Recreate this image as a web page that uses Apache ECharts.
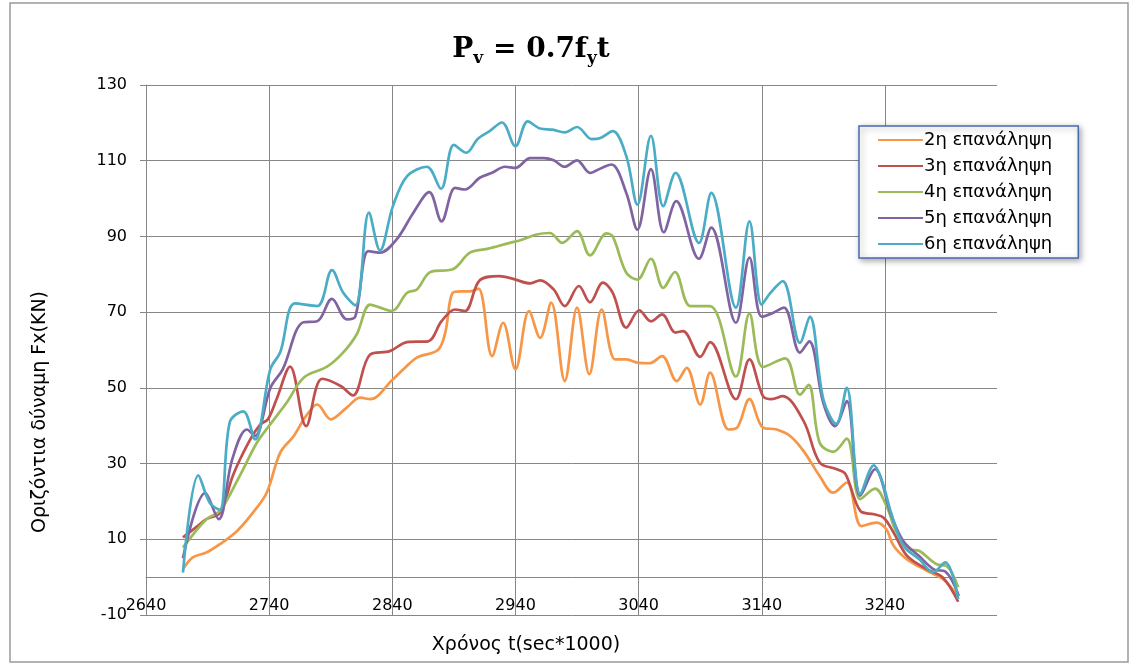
<!DOCTYPE html>
<html><head><meta charset="utf-8">
<script src="https://cdn.jsdelivr.net/npm/echarts@6/dist/echarts.min.js"></script>
<style>html,body{margin:0;padding:0;background:#fff}#c{width:1136px;height:666px}</style>
</head><body><div id="c"></div>
<script>
const seriesNames = ['2η επανάληψη','3η επανάληψη','4η επανάληψη','5η επανάληψη','6η επανάληψη'];
const xTickLabels = [2640, 2740, 2840, 2940, 3040, 3140, 3240];
const yTickLabels = [-10, 10, 30, 50, 70, 90, 110, 130];

// 2η
const x2 = [2670,2678,2689,2700,2714,2727,2738,2749,2760,2770,2779,2790,2803,2814,2822,2840,2849,2860,2877,2883,2889,2896,2903,2910,2921,2930,2940,2951,2960,2969,2980,2990,3000,3010,3021,3030,3040,3049,3059,3071,3079,3090,3098,3113,3120,3130,3141,3152,3163,3174,3187,3198,3209,3221,3233,3241,3247,3258,3274,3287,3299];
const y2 = [2.1,5.2,6.5,8.7,12.2,17.1,22.3,32.9,37.3,42.6,45.6,41.7,44.8,47.4,47,52.1,54.9,58,60,64.6,75.1,75.5,75.5,76.2,58.4,67.2,54.9,70.3,63.2,72.5,51.8,71.2,53.6,70.7,57.5,57.5,56.6,56.5,58.4,51.8,55.3,45.6,54,39,39.5,47,39.5,39,37.3,33.3,26.7,22.3,25,13.5,14.4,12.7,8.3,4.7,1.7,-0.5,-4.9];
// 3η
const x3 = [2670,2680,2689,2700,2711,2724,2733,2739,2746,2757,2770,2783,2798,2808,2822,2838,2852,2869,2880,2891,2899,2911,2927,2938,2952,2960,2971,2980,2991.5,3000.5,3011,3019,3030,3040.5,3050,3059,3070,3076,3090,3098,3119,3130,3141,3148,3157,3174,3187,3201,3208,3220,3231,3239,3247,3258,3274,3287,3299.5];
const y3 = [10.5,13,15.3,17,27.2,36,40.4,41.7,47,55.6,39.9,52.4,50.5,48,58.8,59.7,62.1,62.3,67.6,70.7,70.3,78.4,79.5,78.8,77.6,78.4,76,71.6,76.9,72.6,77.8,75.1,65.9,70.5,67.6,69.4,64.6,65,58.2,62.1,47,57.5,47.8,47,47.8,41.2,30.3,28.5,27.2,17.5,16.6,15.7,11.8,5.6,2.1,-0.1,-6.5];
// 4η
const x4 = [2670,2689,2700,2716,2730,2740,2754,2768,2787,2800,2811,2822,2830,2839.5,2852,2860,2871,2889,2903,2917,2935.5,2944,2957,2968,2978,2990,3000.5,3014,3019,3030,3039,3050,3060,3069.5,3082,3098,3119,3130,3141,3159,3171,3178,3187,3198,3209,3220,3232,3241,3249.5,3260,3268,3282,3290,3299.5];
const y4 = [7.8,15.3,17.5,26.7,35.5,40,46,52.7,55.6,59.3,64.1,72,71.2,70.3,75.1,76,80.6,81.3,85.7,86.7,88.3,89,90.5,90.9,88.3,91.4,85,90.8,90,80.4,78.6,84.1,76.4,80.6,71.6,71.6,53,69.6,55.5,57.8,48.2,50.8,35.5,33.1,36.6,20.6,23.4,19,11.8,7.4,6.9,3.4,3,-2.7];
// 5η
const x5 = [2670,2688,2699,2710,2722,2728.5,2741,2751,2767.5,2779,2791,2803,2810,2820.5,2830,2843.5,2857,2870,2880,2891,2899,2911,2921,2931.5,2940,2952,2963,2971,2980,2990,3000.5,3010,3018,3030,3039,3050,3060.5,3070.5,3089,3099,3119,3130,3140,3149,3158,3171,3178.5,3190,3199.5,3209,3220,3232,3245,3255,3268,3280,3289,3300];
const y5 = [5,22.2,15.3,31.1,39,37.3,50,54.9,67.3,67.6,73.5,68.1,68.9,86.1,85.7,89.2,96.2,101.7,94,102.8,102.4,105.5,106.8,108.4,108.1,110.7,110.7,110.1,108.4,110.1,106.8,108.1,109,101.5,91.8,107.8,91.1,99.3,84.1,92.3,67.2,84.4,68.8,69.8,71.2,59.3,62.3,46,39.9,46.5,21.5,28.5,16.5,9.5,5.5,2,1.5,-5];
// 6η
const x6 = [2670,2682.5,2692,2700,2708,2719,2728.5,2741,2749,2761,2779,2791,2800,2810,2821,2830,2840.5,2852,2868,2879.5,2890,2900,2909.5,2919,2929,2940,2950,2960,2970,2980,2990,3002,3009,3019,3030,3039,3050,3060,3070,3089,3099,3119,3130,3140,3147,3157,3171,3179,3190,3200.5,3209,3220,3231,3238,3245,3255,3268,3279,3289,3299.5];
const y6 = [1.2,26.9,19.5,17.8,40.9,43.8,36.4,55,59.4,72.3,71.6,81.1,75.2,71.8,96.3,86.3,98,105.9,108.4,102.6,114.2,112.1,115.8,117.8,120.1,113.8,120.4,118.5,118.2,117.5,118.9,115.7,116,117.8,111.2,98.4,116.6,98,106.8,88.3,101.5,71.2,94,72,75.1,78.2,61.9,68.8,47,40.5,50,21.9,29.5,25,17,8.3,4.7,1.3,3.9,-5.8];

const colors = ['#F79646','#C0504D','#9BBB59','#8064A2','#4BACC6'];
const xs = [x2,x3,x4,x5,x6];
const ys = [y2,y3,y4,y5,y6];

const chart = echarts.init(document.getElementById('c'), null, {renderer:'canvas'});
const font = 'DejaVu Sans';
const gridColor = '#868686';

const series = seriesNames.map((n, k) => ({
  name: n, type: 'line', symbol: 'none', smooth: 0.35,
  data: xs[k].map((x, i) => [x, ys[k][i]]),
  lineStyle: {color: colors[k], width: 2.7},
  itemStyle: {color: colors[k]},
  z: 5 + k
}));

chart.setOption({
  animation: false,
  backgroundColor: '#fff',
  title: {
    text: '{p|P}{s|v}{p| = 0.7f}{s|y}{p|t}',
    left: 526, top: 27, textAlign: 'center',
    textStyle: {
      rich: {
        p: {fontFamily: 'DejaVu Serif', fontWeight: 'bold', fontSize: 28, color: '#000', lineHeight: 36, verticalAlign: 'middle'},
        s: {fontFamily: 'DejaVu Serif', fontWeight: 'bold', fontSize: 17, color: '#000', lineHeight: 36, padding: [17, 0, 0, 0]}
      }
    }
  },
  legend: {
    orient: 'vertical', left: 859, top: 126,
    data: seriesNames,
    itemWidth: 45, itemHeight: 16, itemGap: 8,
    padding: [5, 26, 5, 18],
    backgroundColor: '#fff', borderColor: '#4a6ab0', borderWidth: 1.5,
    shadowBlur: 6, shadowColor: 'rgba(0,0,0,0.35)', shadowOffsetX: 2, shadowOffsetY: 2,
    itemStyle: {opacity: 0},
    textStyle: {fontFamily: font, fontSize: 18, lineHeight: 16, color: '#000', padding: [0,0,0,-4]}
  },
  grid: {left: 146, right: 139, top: 85, bottom: 51, containLabel: false},
  xAxis: {
    type: 'value', min: 2640, max: 3331, interval: 100,
    axisLine: {show: true, onZero: true, lineStyle: {color: gridColor, width: 1}},
    axisTick: {show: false},
    axisLabel: {
      fontFamily: font, fontSize: 16, color: '#000', margin: -17,
      showMaxLabel: false,
      formatter: v => xTickLabels.includes(Math.round(v)) ? String(Math.round(v)) : ''
    },
    splitLine: {show: true, showMaxLine: false, lineStyle: {color: gridColor, width: 1}}
  },
  yAxis: {
    type: 'value', min: -10, max: 130, interval: 20,
    axisLine: {show: true, lineStyle: {color: gridColor, width: 1}},
    axisTick: {show: true, length: 6, lineStyle: {color: gridColor}},
    axisLabel: {
      fontFamily: font, fontSize: 16, color: '#000', margin: 19,
      formatter: v => yTickLabels.includes(Math.round(v)) ? String(Math.round(v)) : ''
    },
    splitLine: {show: true, lineStyle: {color: gridColor, width: 1}}
  },
  graphic: [
    {type: 'rect', shape: {x: 10, y: 3, width: 1118, height: 659}, style: {fill: null, stroke: '#9a9a9a', lineWidth: 1.5}, silent: true, z: 0},
    {type: 'text', x: 526, y: 645, style: {text: 'Χρόνος t(sec*1000)', fontFamily: font, fontSize: 19, fill: '#000', textAlign: 'center', textVerticalAlign: 'middle'}},
    {type: 'text', x: 40, y: 412, rotation: Math.PI/2, style: {text: 'Οριζόντια δύναμη Fx(KN)', fontFamily: font, fontSize: 19, fill: '#000', textAlign: 'center', textVerticalAlign: 'middle'}}
  ],
  series: series
});
</script></body></html>
